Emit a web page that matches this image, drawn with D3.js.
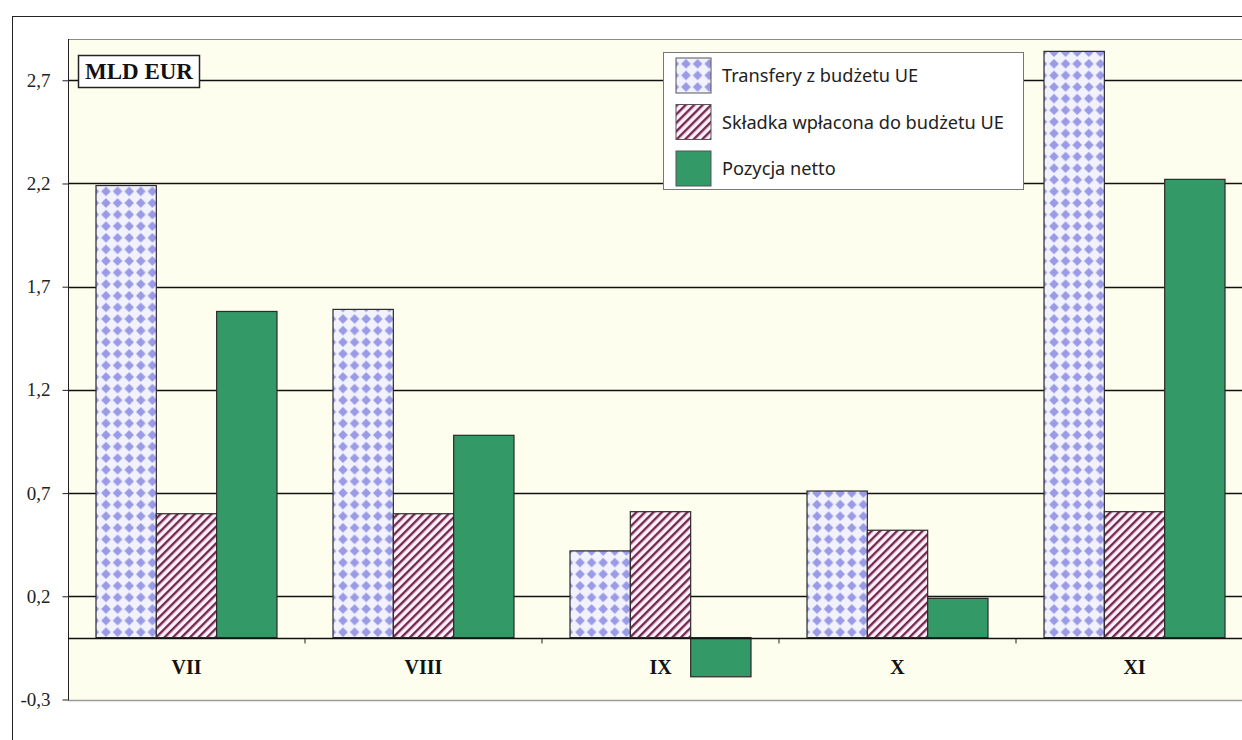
<!DOCTYPE html>
<html>
<head>
<meta charset="utf-8">
<script src="https://cdn.jsdelivr.net/npm/d3@7"></script>
<style>
    body { margin: 0; background: #ffffff; }
</style>
</head>
<body>
<svg id="bar-chart"></svg>
<script>
/*--------------------------------------------------------------------------------
----- GROUPED BAR CHART (EU budget transfers, contributions and net position)
--------------------------------------------------------------------------------*/

// Months (roman numerals) shown on the category axis
const categories = ['VII', 'VIII', 'IX', 'X', 'XI'];

// Series names used in the legend
const series_names = ['Transfery z budżetu UE', 'Składka wpłacona do budżetu UE', 'Pozycja netto'];

// Values of every series (billion EUR)
const transfery_values = [2.19, 1.59, 0.42, 0.71, 2.84];
const skladka_values = [0.60, 0.60, 0.61, 0.52, 0.61];
const pozycja_values = [1.58, 0.98, -0.19, 0.19, 2.22];

// Value axis ticks and their labels (polish decimal comma)
const tick_values = [-0.3, 0.2, 0.7, 1.2, 1.7, 2.2, 2.7];
const tick_labels = ['-0,3', '0,2', '0,7', '1,2', '1,7', '2,2', '2,7'];

// Configure the dimensions of the chart
const chart_width = 1242, chart_height = 740;
const plot_left = 68, plot_top = 39, plot_right = 1253, plot_bottom = 700;

// Create the chart container
var svg = d3.select('#bar-chart')
    .attr('width', chart_width)
    .attr('height', chart_height)
    .style('font-family', '"Liberation Serif", "Times New Roman", serif');

// Patterns used for the two hatched series
var defs = svg.append('defs');

var dots_pattern = defs.append('pattern')
    .attr('id', 'pattern-transfery')
    .attr('patternUnits', 'userSpaceOnUse')
    .attr('width', 11.6)
    .attr('height', 11.6)
    .attr('x', 97)
    .attr('y', 0);
dots_pattern.append('rect')
    .attr('width', 11.6)
    .attr('height', 11.6)
    .attr('fill', '#f2f2ff');
dots_pattern.append('path')
    .attr('d', 'M5.8,1 L10.6,5.8 L5.8,10.6 L1,5.8 Z')
    .attr('fill', '#9a9ae6');

var stripes_pattern = defs.append('pattern')
    .attr('id', 'pattern-skladka')
    .attr('patternUnits', 'userSpaceOnUse')
    .attr('width', 6)
    .attr('height', 6)
    .attr('patternTransform', 'rotate(45)');
stripes_pattern.append('rect')
    .attr('width', 6)
    .attr('height', 6)
    .attr('fill', '#fff0fb');
stripes_pattern.append('rect')
    .attr('width', 2.4)
    .attr('height', 6)
    .attr('fill', '#74294f');

const series_fills = ['url(#pattern-transfery)', 'url(#pattern-skladka)', '#339966'];

// Outer frame of the chart
svg.append('rect')
    .attr('x', 12.5)
    .attr('y', 16.5)
    .attr('width', 1400)
    .attr('height', 900)
    .attr('fill', '#ffffff')
    .attr('stroke', '#222');

// Plot area background
svg.append('rect')
    .attr('x', plot_left)
    .attr('y', plot_top)
    .attr('width', plot_right - plot_left)
    .attr('height', plot_bottom - plot_top)
    .attr('fill', '#fefeee');

// Scales
var y_scale = d3.scaleLinear()
    .domain([-0.3, 2.9])
    .range([plot_bottom - 0.5, plot_top]);

var x_scale = d3.scaleBand()
    .domain(categories)
    .range([plot_left, plot_right])
    .paddingInner(0.2363)
    .paddingOuter(0.1181);

var x_sub_scale = d3.scaleBand()
    .domain(d3.range(series_names.length))
    .range([0, x_scale.bandwidth()]);

// Plot area borders (top and bottom grey lines)
svg.append('line')
    .attr('x1', plot_left).attr('x2', plot_right)
    .attr('y1', plot_top + 0.5).attr('y2', plot_top + 0.5)
    .attr('stroke', '#8a8a8a');
svg.append('line')
    .attr('x1', plot_left).attr('x2', plot_right)
    .attr('y1', plot_bottom + 0.5).attr('y2', plot_bottom + 0.5)
    .attr('stroke', '#9a9a9a')
    .attr('stroke-width', 1.5);

// Horizontal grid lines behind the bars
svg.append('g')
    .selectAll('line')
    .data(tick_values.filter(function (d) { return d > -0.3; }))
    .enter()
    .append('line')
    .attr('x1', plot_left)
    .attr('x2', plot_right)
    .attr('y1', function (d) { return Math.round(y_scale(d)) + 0.5; })
    .attr('y2', function (d) { return Math.round(y_scale(d)) + 0.5; })
    .attr('stroke', '#111')
    .attr('stroke-width', 1.3);

// Value axis with its comma labels
var y_axis = d3.axisLeft(y_scale)
    .tickValues(tick_values)
    .tickFormat(function (d, i) { return tick_labels[i]; })
    .tickSize(6)
    .tickPadding(12);

var y_axis_group = svg.append('g')
    .attr('transform', 'translate(' + (plot_left + 0.5) + ',0)')
    .call(y_axis);
y_axis_group.select('.domain')
    .attr('d', 'M0,' + plot_top + 'V' + plot_bottom)
    .attr('stroke', '#222');
y_axis_group.selectAll('.tick line').attr('stroke', '#222');
y_axis_group.selectAll('text')
    .style('font-family', '"Liberation Serif", serif')
    .style('font-size', '19px')
    .attr('fill', '#222');

// Add the bar groups for every month
var month_groups = svg.append('g')
    .selectAll('g')
    .data(categories)
    .enter()
    .append('g')
    .attr('transform', function (d) { return 'translate(' + x_scale(d) + ',0)'; });

var all_values = [transfery_values, skladka_values, pozycja_values];

month_groups.selectAll('rect')
    .data(function (d, i) { return all_values.map(function (vals, s) { return { series: s, value: vals[i] }; }); })
    .enter()
    .append('rect')
    .attr('x', function (d) { return x_sub_scale(d.series); })
    .attr('y', function (d) { return Math.min(y_scale(d.value), y_scale(0)); })
    .attr('width', x_sub_scale.bandwidth())
    .attr('height', function (d) { return Math.abs(y_scale(d.value) - y_scale(0)); })
    .attr('fill', function (d) { return series_fills[d.series]; })
    .attr('stroke', '#2b2b2b')
    .attr('stroke-width', 1.2);

// Category axis placed on the zero line
var x_axis = d3.axisBottom(x_scale)
    .tickSize(0)
    .tickPadding(21);

var x_axis_group = svg.append('g')
    .attr('transform', 'translate(0,' + (Math.round(y_scale(0)) + 0.5) + ')')
    .call(x_axis);
x_axis_group.select('.domain')
    .attr('d', 'M' + plot_left + ',0H' + plot_right)
    .attr('stroke', '#111')
    .attr('stroke-width', 1.5);
x_axis_group.selectAll('text')
    .style('font-family', '"Liberation Serif", serif')
    .style('font-size', '20px')
    .style('font-weight', 'bold')
    .attr('fill', '#111');

// Small separators between the months under the zero line
x_axis_group.selectAll('.sep')
    .data(categories.slice(1))
    .enter()
    .append('line')
    .attr('class', 'sep')
    .attr('x1', function (d) { return x_scale(d) - x_scale.step() * x_scale.paddingInner() / 2; })
    .attr('x2', function (d) { return x_scale(d) - x_scale.step() * x_scale.paddingInner() / 2; })
    .attr('y1', 0)
    .attr('y2', 5)
    .attr('stroke', '#222');

// Unit label box
var unit_box = svg.append('g');
unit_box.append('rect')
    .attr('x', 78.5)
    .attr('y', 55.5)
    .attr('width', 121)
    .attr('height', 32)
    .attr('fill', '#ffffff')
    .attr('stroke', '#222')
    .attr('stroke-width', 1.5);
unit_box.append('text')
    .attr('x', 139)
    .attr('y', 79)
    .attr('text-anchor', 'middle')
    .style('font-size', '23px')
    .style('font-weight', 'bold')
    .attr('fill', '#111')
    .text('MLD EUR');

// Legend
var legend = svg.append('g');
legend.append('rect')
    .attr('x', 663.5)
    .attr('y', 52.5)
    .attr('width', 360)
    .attr('height', 137)
    .attr('fill', '#ffffff')
    .attr('stroke', '#777');

var legend_items = legend.selectAll('.legend-item')
    .data(series_names)
    .enter()
    .append('g')
    .attr('class', 'legend-item')
    .attr('transform', function (d, i) { return 'translate(676,' + (58 + i * 46.5) + ')'; });

legend_items.append('rect')
    .attr('width', 35)
    .attr('height', 35)
    .attr('fill', function (d, i) { return series_fills[i]; })
    .attr('stroke', '#555');

legend_items.append('text')
    .attr('x', 46)
    .attr('y', 18)
    .attr('dy', '0.35em')
    .style('font-family', '"Noto Sans", "Open Sans", sans-serif')
    .style('font-size', '18.2px')
    .attr('fill', '#222')
    .text(function (d) { return d; });
</script>
</body>
</html>
